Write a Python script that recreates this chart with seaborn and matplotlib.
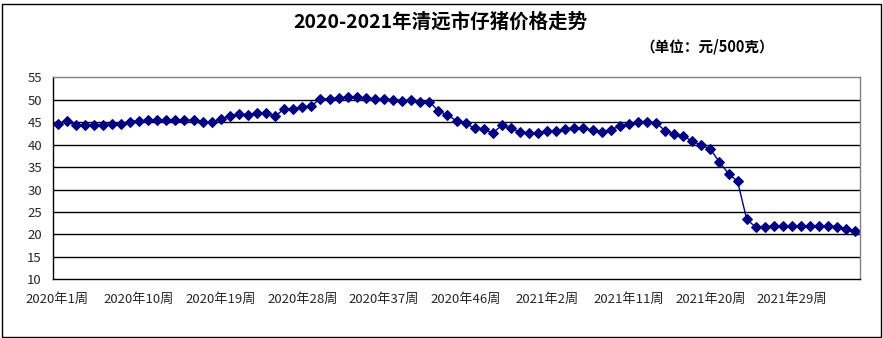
import matplotlib
matplotlib.use("Agg")
import matplotlib.pyplot as plt
from matplotlib.patches import Rectangle
from matplotlib.ticker import FixedLocator
import seaborn as sns
import pandas as pd

# ---- data ----
weeks_2020 = list(range(1, 54))
weeks_2021 = list(range(1, 37))
week_labels = [f"2020年{w}周" for w in weeks_2020] + [f"2021年{w}周" for w in weeks_2021]
prices = [
    44.7, 45.2, 44.3, 44.3, 44.3, 44.3, 44.7, 44.7, 45.15, 45.3,
    45.4, 45.4, 45.4, 45.5, 45.5, 45.45, 45.15, 45.0, 45.7, 46.4,
    46.8, 46.7, 47.0, 47.0, 46.3, 48.0, 48.0, 48.3, 48.7, 50.2,
    50.2, 50.4, 50.6, 50.6, 50.3, 50.1, 50.1, 50.05, 49.8, 49.9,
    49.6, 49.6, 47.5, 46.6, 45.3, 44.8, 43.6, 43.4, 42.6, 44.3,
    43.6, 42.8, 42.5, 42.6, 43.1, 43.1, 43.5, 43.7, 43.6, 43.3,
    42.9, 43.3, 44.1, 44.55, 45.15, 45.15, 44.9, 43.1, 42.3, 41.95,
    40.75, 39.9, 39.0, 36.1, 33.55, 31.8, 23.4, 21.6, 21.75, 21.8,
    21.9, 21.8, 21.8, 21.95, 21.9, 21.8, 21.75, 21.1, 20.7,
]
title_text = "2020-2021年清远市仔猪价格走势"
unit_text = "（单位：元/500克）"
y_ticks = [10, 15, 20, 25, 30, 35, 40, 45, 50, 55]
label_every = 9

df = pd.DataFrame({"idx": range(len(prices)), "week": week_labels, "price": prices})

sns.set_style("white")
plt.rcParams["font.family"] = ["Noto Sans CJK SC", "DejaVu Sans"]

W, H = 883, 338
fig = plt.figure(figsize=(W / 100, H / 100), dpi=100)
fig.patch.set_facecolor("white")
ax = fig.add_axes([53 / W, 1 - 279.3 / H, (860 - 53) / W, (279.3 - 77.3) / H])

navy = "#000080"
sns.lineplot(data=df, x="idx", y="price", ax=ax, color=navy, linewidth=1.0,
             marker="D", markersize=5, markeredgecolor=navy, markerfacecolor=navy)

ax.set_xlim(-0.5, len(prices) - 0.5)
ax.set_ylim(10, 55)
ax.set_yticks(y_ticks)
ax.set_yticklabels([str(v) for v in y_ticks], fontsize=9.5)
for v in y_ticks[1:-1]:
    ax.axhline(v, color="black", linewidth=1.0, zorder=0)

major = list(range(0, len(prices), label_every))
ax.set_xticks(major)
ax.set_xticklabels([week_labels[i] for i in major], fontsize=9.5)
ax.xaxis.set_minor_locator(FixedLocator([i - 0.5 for i in major[1:]]))
ax.tick_params(axis="x", which="major", length=0, pad=10)
ax.tick_params(axis="x", which="minor", length=5, width=1, color="black", direction="out")
ax.tick_params(axis="y", length=0, pad=8)
ax.set_xlabel("")
ax.set_ylabel("")

for s in ["left", "bottom"]:
    ax.spines[s].set_color("black")
    ax.spines[s].set_linewidth(1.0)
for s in ["top", "right"]:
    ax.spines[s].set_color("#808080")
    ax.spines[s].set_linewidth(1.0)

fig.text(440 / W, 1 - 22 / H, title_text, ha="center", va="center",
         fontsize=14, fontweight="bold", color="black")
fig.text(707 / W, 1 - 47 / H, unit_text, ha="center", va="center",
         fontsize=10.5, fontweight="bold", color="black")

fig.patches.append(Rectangle((1.5 / W, 1.5 / H), 879 / W, 333 / H,
                             transform=fig.transFigure, fill=False,
                             edgecolor="black", linewidth=1.0))

fig.savefig("out.png", dpi=100)
